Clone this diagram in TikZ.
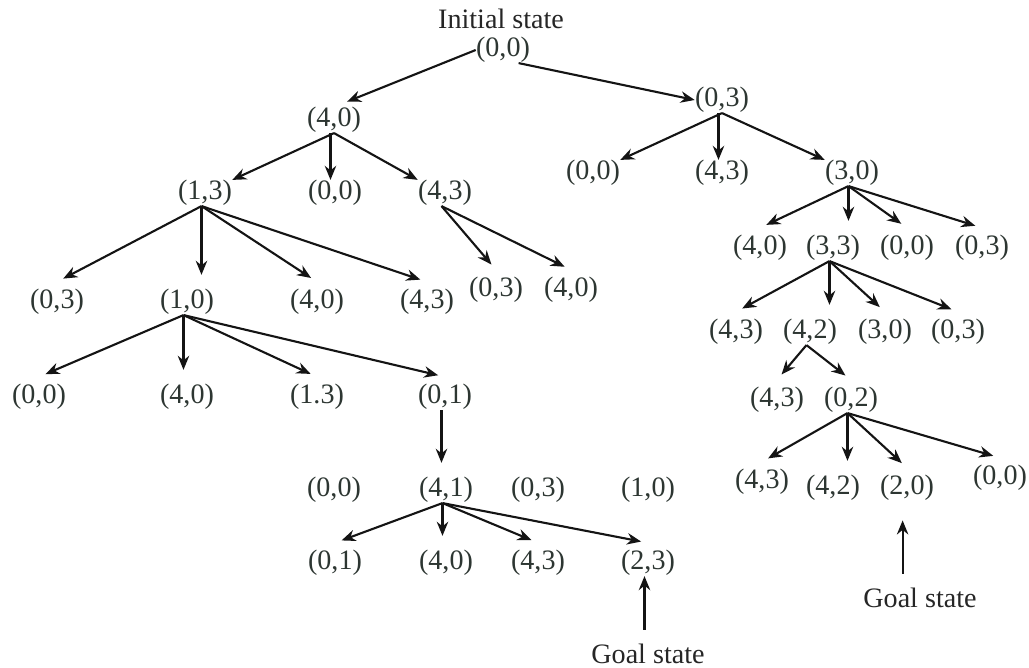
\documentclass[tikz,border=0pt]{standalone}
\usepackage{fontspec}
\setmainfont{Liberation Serif}
\usetikzlibrary{arrows.meta}

\definecolor{statecol}{RGB}{45,54,50}
\definecolor{linecol}{RGB}{20,20,20}

\begin{document}
\begin{tikzpicture}[x=0.02cm, y=-0.02cm, >={Stealth[length=8pt,width=6.5pt]},
  st/.style={inner sep=0pt, text=statecol, font=\fontsize{16}{19}\selectfont},
  lbl/.style={inner sep=0pt, text=black!85, font=\fontsize{16}{19}\selectfont},
  edge/.style={->, linecol, line width=1.2pt, shorten >=4pt},
  topedge/.style={edge, shorten >=0pt}]

  \useasboundingbox (0,0) rectangle (1029,668);

  % root
  \node[lbl] (init) at (501,19) {Initial state};
  \node[st] (s) at (503,50) {(0,0)};

  % first and second level
  \node[st] (s1) at (334,120) {(4,0)};
  \node[st] (s2) at (722,100) {(0,3)};
  \node[st] (s11) at (205,193) {(1,3)};
  \node[st] (s12) at (335,193) {(0,0)};
  \node[st] (s13) at (445,193) {(4,3)};
  \node[st] (s21) at (593,173) {(0,0)};
  \node[st] (s22) at (722,173) {(4,3)};
  \node[st] (s23) at (852,173) {(3,0)};

  % left branch
  \node[st] (s111) at (57,302) {(0,3)};
  \node[st] (s112) at (187,302) {(1,0)};
  \node[st] (s113) at (317,302) {(4,0)};
  \node[st] (s114) at (427,302) {(4,3)};
  \node[st] (s131) at (496,290) {(0,3)};
  \node[st] (s132) at (571,290) {(4,0)};
  \node[st] (s1121) at (39,397) {(0,0)};
  \node[st] (s1122) at (187,397) {(4,0)};
  \node[st] (s1123) at (317,397) {(1.3)};
  \node[st] (s1124) at (445,397) {(0,1)};
  \node[st] (t1) at (334,490) {(0,0)};
  \node[st] (t2) at (446,490) {(4,1)};
  \node[st] (t3) at (538,490) {(0,3)};
  \node[st] (t4) at (648,490) {(1,0)};
  \node[st] (c1) at (335,563) {(0,1)};
  \node[st] (c2) at (446,563) {(4,0)};
  \node[st] (c3) at (538,563) {(4,3)};
  \node[st] (c4) at (648,563) {(2,3)};
  \node[lbl] (goal1) at (648,654) {Goal state};

  % right branch
  \node[st] (s231) at (760,248) {(4,0)};
  \node[st] (s232) at (833,248) {(3,3)};
  \node[st] (s233) at (907,248) {(0,0)};
  \node[st] (s234) at (982,248) {(0,3)};
  \node[st] (s2321) at (736,332) {(4,3)};
  \node[st] (s2322) at (810,332) {(4,2)};
  \node[st] (s2323) at (885,332) {(3,0)};
  \node[st] (s2324) at (958,332) {(0,3)};
  \node[st] (w1) at (777,400) {(4,3)};
  \node[st] (w2) at (851,400) {(0,2)};
  \node[st] (x1) at (762,482) {(4,3)};
  \node[st] (x2) at (833,488) {(4,2)};
  \node[st] (x3) at (907,488) {(2,0)};
  \node[st] (x4) at (1000,478) {(0,0)};
  \node[lbl] (goal2) at (920,598) {Goal state};

  % arrows from the root
  \draw[edge, shorten >=8pt] (s.west) -- (s1.north);
  \draw[topedge] (s.-40) -- (s2.west);
  \foreach \c/\a in {s11/north east, s13/north west}
    \draw[topedge] (s1.south) -- (\c.\a);
  \foreach \c/\a in {s21/north east, s23/north west}
    \draw[topedge] (s2.south) -- (\c.\a);
  \draw[topedge] ([xshift=-2pt]s1.south) -- ([xshift=-2pt]s12.north -| s1.south);
  \draw[topedge] ([xshift=-2pt]s2.south) -- ([xshift=-2pt]s22.north -| s2.south);

  % slanted arrows
  \foreach \p/\c in {s11/s111, s11/s113, s11/s114, s13/s131, s13/s132,
                     s112/s1121, s112/s1123, s112/s1124,
                     t2/c1, t2/c3, t2/c4,
                     s23/s231, s23/s233, s23/s234,
                     s232/s2321, s232/s2323, s232/s2324,
                     s2322/w1, s2322/w2,
                     w2/x1, w2/x3, w2/x4}
    \draw[edge] ([xshift=-2pt]\p.south) -- ([yshift=4pt]\c.north);

  % straight-down arrows
  \foreach \p/\c in {s11/s112, s112/s1122, s1124/t2, t2/c2,
                     s23/s232, s232/s2322, w2/x2}
    \draw[edge] ([xshift=-2pt]\p.south) -- ([xshift=-2pt,yshift=4pt]\c.north -| \p.south);

  % goal pointers
  \draw[topedge, shorten <=8pt] ([xshift=-2pt]goal1.north -| c4.south) -- ([xshift=-2pt]c4.south);
  \draw[topedge, shorten <=8pt, shorten >=11pt] ([xshift=-2.5pt]goal2.north -| x3.south) -- ([xshift=-2.5pt]x3.south);

\end{tikzpicture}
\end{document}
